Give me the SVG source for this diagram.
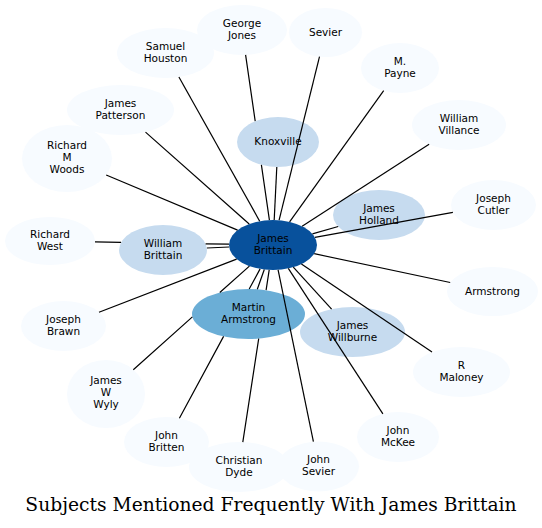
<svg xmlns="http://www.w3.org/2000/svg" width="542" height="528" viewBox="0 0 542 528">
<style>
.n{fill:#f7fbff}
.m{fill:#c6dbef}
.k{fill:#6baed6}
.c{fill:#08519c}
text{font-family:"DejaVu Sans","Liberation Sans",sans-serif;font-size:10.5px;fill:#000;text-anchor:middle}
.e path{fill:none;stroke:#000;stroke-width:1.2}
.t{font-family:"DejaVu Serif","Liberation Serif",serif;font-size:18.7px}
</style>
<rect width="542" height="528" fill="#fff"/>
<g id="nodes">
<g id="n-knoxville"><ellipse class="m" cx="278" cy="142" rx="41" ry="25"/><text x="278" y="145">Knoxville</text></g>
<g id="n-george-jones"><ellipse class="n" cx="242" cy="30" rx="45" ry="25"/><text x="242" y="26.5">George</text><text x="242" y="38.5">Jones</text></g>
<g id="n-sevier"><ellipse class="n" cx="325.5" cy="32.5" rx="36.5" ry="24.5"/><text x="325.5" y="35.5">Sevier</text></g>
<g id="n-samuel-houston"><ellipse class="n" cx="165.5" cy="53" rx="48.5" ry="25"/><text x="165.5" y="49.5">Samuel</text><text x="165.5" y="61.5">Houston</text></g>
<g id="n-m-payne"><ellipse class="n" cx="400" cy="68" rx="39" ry="25"/><text x="400" y="64.5">M.</text><text x="400" y="76.5">Payne</text></g>
<g id="n-james-patterson"><ellipse class="n" cx="120.5" cy="110" rx="53.5" ry="25"/><text x="120.5" y="106.5">James</text><text x="120.5" y="118.5">Patterson</text></g>
<g id="n-william-villance"><ellipse class="n" cx="459" cy="125" rx="47" ry="25"/><text x="459" y="121.5">William</text><text x="459" y="133.5">Villance</text></g>
<g id="n-richard-m-woods"><ellipse class="n" cx="67" cy="158.5" rx="45" ry="33.5"/><text x="67" y="148.5">Richard</text><text x="67" y="160.5">M</text><text x="67" y="172.5">Woods</text></g>
<g id="n-james-holland"><ellipse class="m" cx="379" cy="215" rx="46" ry="25"/><text x="379" y="211.5">James</text><text x="379" y="223.5">Holland</text></g>
<g id="n-joseph-cutler"><ellipse class="n" cx="493.5" cy="205" rx="42.5" ry="25"/><text x="493.5" y="201.5">Joseph</text><text x="493.5" y="213.5">Cutler</text></g>
<g id="n-richard-west"><ellipse class="n" cx="50" cy="241" rx="45" ry="24"/><text x="50" y="237.5">Richard</text><text x="50" y="249.5">West</text></g>
<g id="n-william-brittain"><ellipse class="m" cx="163" cy="250" rx="44" ry="25"/><text x="163" y="246.5">William</text><text x="163" y="258.5">Brittain</text></g>
<g id="n-armstrong"><ellipse class="n" cx="492.5" cy="291.5" rx="45.5" ry="24.5"/><text x="492.5" y="294.5">Armstrong</text></g>
<g id="n-joseph-brawn"><ellipse class="n" cx="63.5" cy="326" rx="42.5" ry="25"/><text x="63.5" y="322.5">Joseph</text><text x="63.5" y="334.5">Brawn</text></g>
<g id="n-martin-armstrong"><ellipse class="k" cx="248.5" cy="314" rx="56.5" ry="25"/><text x="248.5" y="310.5">Martin</text><text x="248.5" y="322.5">Armstrong</text></g>
<g id="n-james-willburne"><ellipse class="m" cx="352.5" cy="332" rx="52.5" ry="25"/><text x="352.5" y="328.5">James</text><text x="352.5" y="340.5">Willburne</text></g>
<g id="n-r-maloney"><ellipse class="n" cx="461.5" cy="372" rx="48.5" ry="25"/><text x="461.5" y="368.5">R</text><text x="461.5" y="380.5">Maloney</text></g>
<g id="n-james-w-wyly"><ellipse class="n" cx="106" cy="394" rx="39" ry="34"/><text x="106" y="384">James</text><text x="106" y="396">W</text><text x="106" y="408">Wyly</text></g>
<g id="n-john-britten"><ellipse class="n" cx="166.5" cy="442" rx="42.5" ry="25"/><text x="166.5" y="438.5">John</text><text x="166.5" y="450.5">Britten</text></g>
<g id="n-john-mckee"><ellipse class="n" cx="398" cy="437" rx="41" ry="25"/><text x="398" y="433.5">John</text><text x="398" y="445.5">McKee</text></g>
<g id="n-christian-dyde"><ellipse class="n" cx="239" cy="467" rx="50" ry="25"/><text x="239" y="463.5">Christian</text><text x="239" y="475.5">Dyde</text></g>
<g id="n-john-sevier"><ellipse class="n" cx="318.5" cy="466.5" rx="40.5" ry="25"/><text x="318.5" y="463">John</text><text x="318.5" y="475">Sevier</text></g>
<g id="n-james-brittain"><ellipse class="c" cx="273" cy="245" rx="44" ry="25"/><text x="273" y="241.5">James</text><text x="273" y="253.5">Brittain</text></g>
</g>
<g id="connectors" class="e">
<path d="M274.2,220 L276.8,167"/>
<path d="M245.6,54.9 L255.2,121.2 M261.4,164.9 L269.4,220.1"/>
<path d="M279.1,220.2 L319.5,56.7"/>
<path d="M259.7,221.2 L178.9,77"/>
<path d="M289.6,221.8 L383.7,90.7"/>
<path d="M249.2,224 L145.5,132.1"/>
<path d="M302.1,226.2 L429.1,144.3"/>
<path d="M237.6,230.1 L106.2,175"/>
<path d="M312.4,233.9 L338.2,226.5"/>
<path d="M314.9,237.4 L452.9,212.4"/>
<path d="M95,241.8 L121.1,242.3 M205.6,243.8 L229,244.2"/>
<path d="M229.1,247 L206.9,248"/>
<path d="M314.2,253.7 L450.2,282.5"/>
<path d="M236.6,259.1 L99,312.3"/>
<path d="M264.3,269.5 L257.3,289.3"/>
<path d="M293.3,267.2 L331.6,309.1"/>
<path d="M301.4,264.1 L432,352.1"/>
<path d="M133.3,369.7 L192.4,316.9 M219.8,292.5 L249.4,266.1"/>
<path d="M179.4,418.2 L223.6,336.4 M249.2,289 L260.1,268.9"/>
<path d="M288.3,268.4 L382.9,413.8"/>
<path d="M242.8,442.1 L258.7,338.6 M266.1,290.2 L269.2,269.9"/>
<path d="M278.1,269.8 L313.4,441.7"/>
</g>
<text class="t" x="271" y="511">Subjects Mentioned Frequently With James Brittain</text>
</svg>
